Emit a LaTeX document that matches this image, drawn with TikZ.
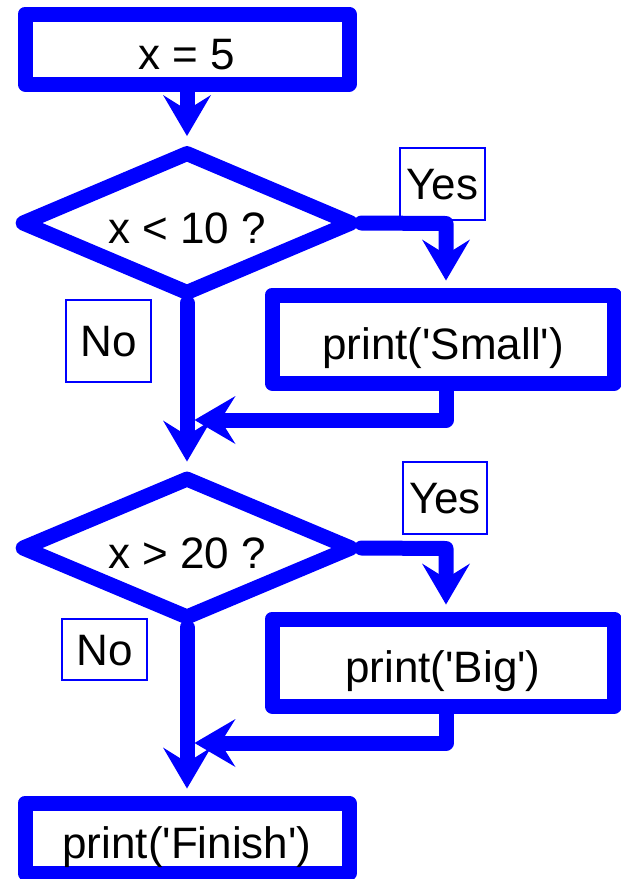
\documentclass[tikz,border=0pt]{standalone}
\usepackage{fontspec}
\setmainfont{Liberation Sans}
\usetikzlibrary{shapes.geometric,arrows.meta}
\newcommand{\sq}{\textquotesingle}
\begin{document}
\begin{tikzpicture}[x=1pt,y=-1pt,
  every node/.style={font=\fontsize{44}{50}\selectfont},
  flow/.style={draw=blue, line width=15pt, line join=round, line cap=round, fill=white},
  box/.style={flow, rectangle, inner sep=0pt, text height=40.5pt, text depth=0pt},
  dec/.style={flow, diamond, aspect=2.3, inner sep=0pt, text height=40.5pt, text depth=0pt},
  tag/.style={draw=blue, line width=2pt, rectangle, inner sep=0pt, text height=31.5pt, text depth=0pt},
  conn/.style={draw=blue, line width=15pt, line join=round, line cap=round},
  arr/.style={conn, -{Stealth[length=41pt,width=48pt,inset=15pt,line width=0pt]}, shorten >=7pt},
]
\useasboundingbox (0,0) rectangle (621,879);
% labels
\node[tag, minimum width=85pt, minimum height=72pt] (yes1) at (442.5,184) {Yes};
\node[tag, minimum width=85pt, minimum height=82pt] (no1) at (108.5,341) {No};
\node[tag, minimum width=84pt, minimum height=72pt] (yes2) at (445,498) {Yes};
\node[tag, minimum width=85pt, minimum height=61pt] (no2) at (104.5,649.5) {No};
% main nodes
\node[box, minimum width=324pt, minimum height=70pt] (start) at (187,49) {x = 5};
\node[dec, minimum width=334pt, minimum height=145pt] (d1) at (187,223) {x < 10 ?};
\node[box, minimum width=342pt, minimum height=88pt] (small) at (443,339) {print(\sq Small\sq)};
\node[dec, minimum width=334pt, minimum height=144pt] (d2) at (187,548) {x > 20 ?};
\node[box, minimum width=342pt, minimum height=87pt] (big) at (443,662.5) {print(\sq Big\sq)};
\node[box, minimum width=324pt, minimum height=70pt] (finish) at (187,838) {print(\sq Finish\sq)};
% bend points
\coordinate (c1) at (446,223.5);
\coordinate (c2) at (446,420);
\coordinate (c3) at (446,548.5);
\coordinate (c4) at (446,743);
\coordinate (m1) at (187,420);
\coordinate (m2) at (187,743);
% connectors
\draw[arr] (start.south) -- (d1.north);
\draw[arr] (d1.east) -- (c1) -- (c1 |- small.north);
\draw[arr, shorten >=7.5pt] (small.south -| c1) -- (c2) -- (m1);
\draw[arr] (d1.south) -- (d2.north);
\draw[arr] (d2.east) -- (c3) -- (c3 |- big.north);
\draw[arr, shorten >=7.5pt] (big.south -| c3) -- (c4) -- (m2);
\draw[arr] (d2.south) -- (finish.north);
\end{tikzpicture}
\end{document}
